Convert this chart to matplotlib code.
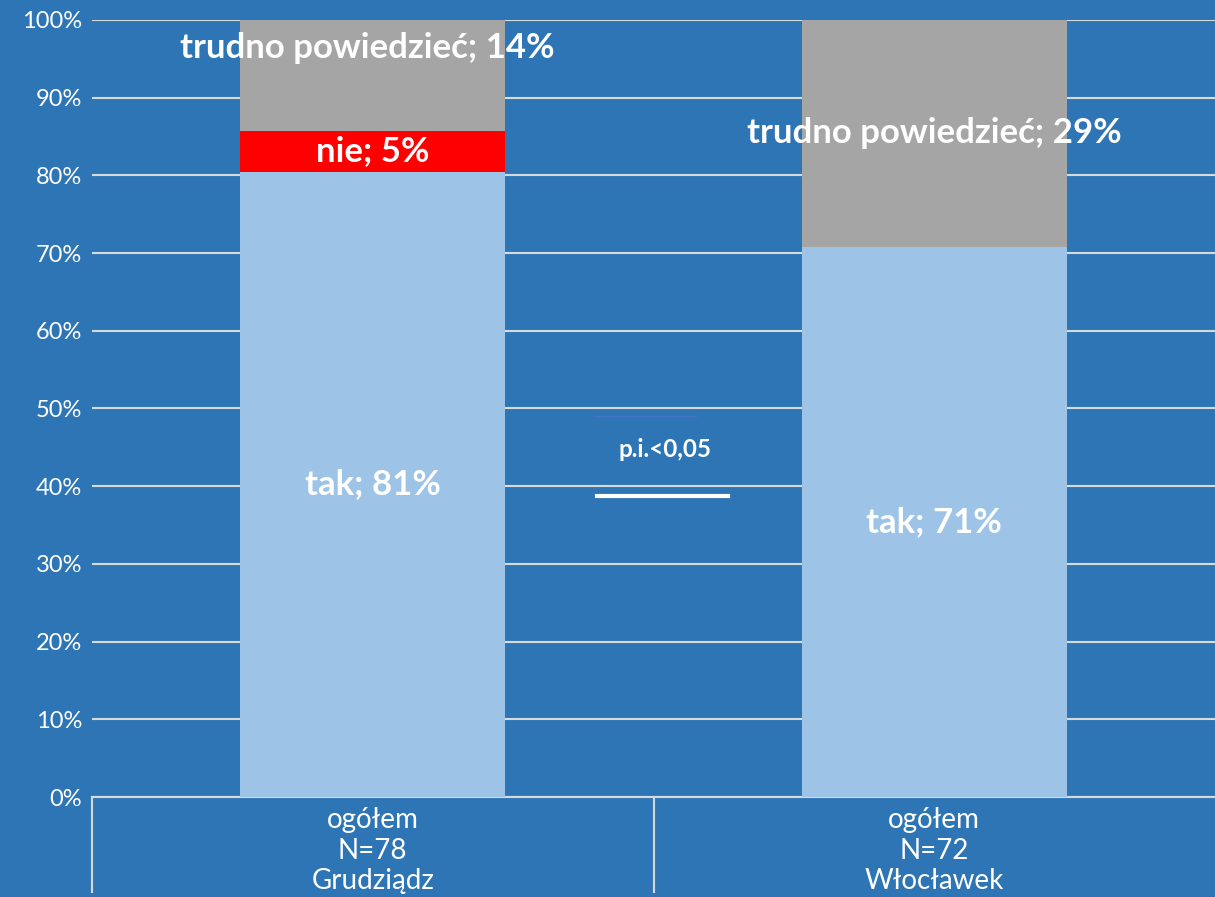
import matplotlib
matplotlib.use("Agg")
import matplotlib.pyplot as plt
import numpy as np

cities = ["Grudziądz", "Włocławek"]
sample_n = [78, 72]
group_label = "ogółem"
series_names = ["tak", "nie", "trudno powiedzieć"]
tak = [80.5, 70.8]
nie = [5.2, 0.0]
trudno = [14.3, 29.2]
tak_lbl = [81, 71]
nie_lbl = [5, None]
trudno_lbl = [14, 29]
yticks = [0, 10, 20, 30, 40, 50, 60, 70, 80, 90, 100]

BG = "#2E75B6"
C_TAK = "#9DC3E6"
C_NIE = "#FF0000"
C_TRU = "#A5A5A5"
GRID = "#D9D9D9"

plt.rcParams['font.family'] = ['Lato', 'DejaVu Sans']

fig = plt.figure(figsize=(12.15, 8.97), dpi=100, facecolor=BG)
ax = fig.add_axes([92/1215, 1-797/897, 1-92/1215, (797-20)/897])
ax.set_facecolor(BG)

x = np.arange(len(cities))
w = 0.472
ax.bar(x, tak, w, color=C_TAK, zorder=3)
ax.bar(x, nie, w, bottom=tak, color=C_NIE, zorder=3)
bot2 = np.array(tak) + np.array(nie)
ax.bar(x, trudno, w, bottom=bot2, color=C_TRU, zorder=3)

ax.set_xlim(-0.5, 1.5)
ax.set_ylim(0, 100)
ax.set_yticks(yticks)
ax.set_yticklabels([f"{v}%" for v in yticks], color="white", fontsize=17)
ax.tick_params(axis='y', length=0, pad=7)
ax.tick_params(axis='x', length=0)
ax.set_xticks([])
ax.grid(axis='y', color=GRID, linewidth=1.5, zorder=0)
for s in ['top', 'right', 'left']:
    ax.spines[s].set_visible(False)
ax.spines['bottom'].set_color(GRID)
ax.spines['bottom'].set_linewidth(1.5)

lab_kw = dict(ha='center', va='center', color='white', fontweight='bold', fontsize=25, zorder=5)
for i in range(len(cities)):
    ax.text(x[i], tak[i] / 2, f"tak; {tak_lbl[i]}%", **lab_kw)
    if nie[i] > 0:
        ax.text(x[i], tak[i] + nie[i] / 2, f"nie; {nie_lbl[i]}%", **lab_kw)
# trudno labels
ax.text(x[0] - 0.01, 96.4, f"trudno powiedzieć; {trudno_lbl[0]}%", **lab_kw)
ax.text(x[1], bot2[1] + trudno[1] / 2, f"trudno powiedzieć; {trudno_lbl[1]}%", **lab_kw)

# significance annotation
ax.text(0.52, 44.7, "p.i.<0,05", ha='center', va='center', color='white',
        fontweight='bold', fontsize=17.5, zorder=5)
ax.plot([0.40, 0.632], [38.8, 38.8], color='white', linewidth=3, zorder=5)
ax.plot([0.394, 0.575], [49.0, 49.0], color='#4472C4', linewidth=1, zorder=5)

# category labels and separators
trans = ax.get_xaxis_transform()
for i in range(len(cities)):
    ax.text(x[i], -0.013, f"{group_label}\nN={sample_n[i]}\n{cities[i]}", transform=trans,
            ha='center', va='top', color='white', fontsize=20, linespacing=1.22)
for xs in [-0.5, 0.5]:
    ax.plot([xs, xs], [0, -0.122], transform=trans, color=GRID, linewidth=1.5, clip_on=False)

fig.savefig("out.png", dpi=100, facecolor=BG)
